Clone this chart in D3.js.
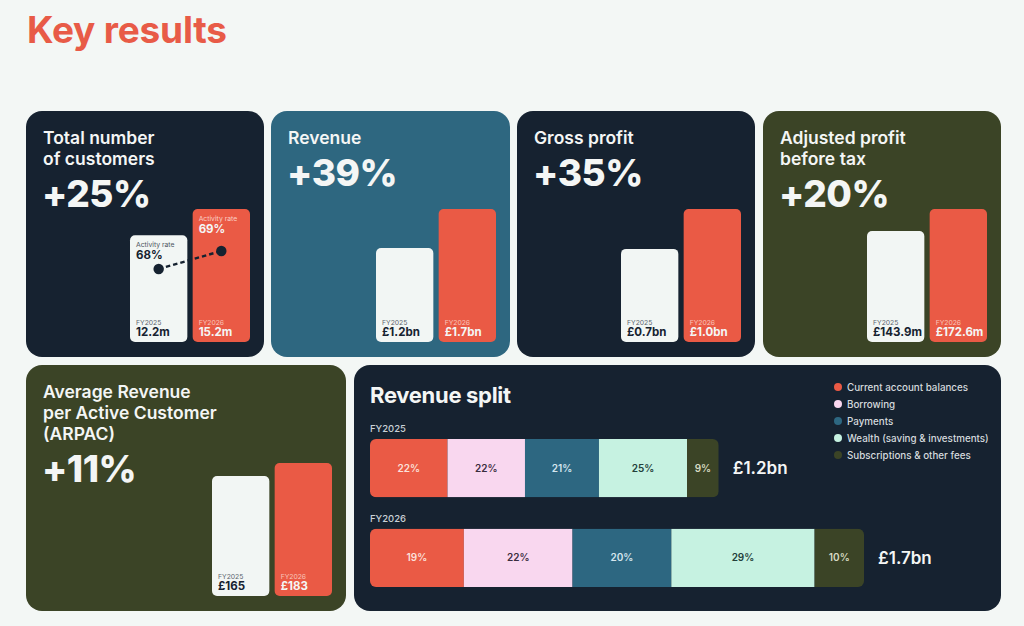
<!DOCTYPE html>
<html lang="en">
<head>
  <meta charset="UTF-8">
  <title>Key results</title>
  <script src="https://d3js.org/d3.v7.min.js"></script>
  <style>
    body {
      margin: 0;
      background: #f3f7f5;
      font-family: "Inter", "Roboto", sans-serif;
    }
    svg text {
      font-family: "Inter", "Roboto", sans-serif;
    }
  </style>
</head>
<body>
  <svg id="chart" width="1024" height="626"></svg>

  <script>
    // headline cards
    const cardTitles = [
      ["Total number", "of customers"],
      ["Revenue"],
      ["Gross profit"],
      ["Adjusted profit", "before tax"],
      ["Average Revenue", "per Active Customer", "(ARPAC)"]
    ];
    const cardChanges = ["+25%", "+39%", "+35%", "+20%", "+11%"];
    const years = ["FY2025", "FY2026"];
    const values2025 = [12.2, 1.2, 0.7, 143.9, 165];
    const values2026 = [15.2, 1.7, 1.0, 172.6, 183];
    const labels2025 = ["12.2m", "£1.2bn", "£0.7bn", "£143.9m", "£165"];
    const labels2026 = ["15.2m", "£1.7bn", "£1.0bn", "£172.6m", "£183"];
    const activityRates = [68, 69];

    // revenue split
    const splitCategories = ["Current account balances", "Borrowing", "Payments",
      "Wealth (saving & investments)", "Subscriptions & other fees"];
    const split2025 = [22, 22, 21, 25, 9];
    const split2026 = [19, 22, 20, 29, 10];
    const splitTotals = [1.2, 1.7];
    const splitTotalLabels = ["£1.2bn", "£1.7bn"];

    const NAVY = "#162230", TEAL = "#2e6780", OLIVE = "#3b4426";
    const RED = "#ea5a45", PAPER = "#f2f6f4", WHITE = "#f4f6f5";
    const segColors = ["#ea5a45", "#f9d7ef", "#2d6781", "#c6f2e1", "#3b4426"];
    const segText = ["#fbe1dc", "#3a2d3e", "#d5e6ee", "#23403a", "#d8dcc4"];

    const svg = d3.select("#chart");

    svg.append("text")
      .attr("x", 27).attr("y", 43)
      .attr("font-size", 37).attr("font-weight", 700)
      .attr("letter-spacing", -0.2)
      .attr("fill", "#e85b47")
      .text("Key results");

    const cards = [
      { x: 26, y: 111, w: 238, h: 246, fill: NAVY },
      { x: 271, y: 111, w: 239, h: 246, fill: TEAL },
      { x: 517, y: 111, w: 238, h: 246, fill: NAVY },
      { x: 763, y: 111, w: 238, h: 246, fill: OLIVE },
      { x: 26, y: 365, w: 320, h: 246, fill: OLIVE }
    ];

    cards.forEach((c, i) => {
      const g = svg.append("g").attr("transform", `translate(${c.x},${c.y})`);
      g.append("rect").attr("width", c.w).attr("height", c.h)
        .attr("rx", 16).attr("fill", c.fill);

      const lines = cardTitles[i];
      g.selectAll("text.title").data(lines).join("text")
        .attr("class", "title")
        .attr("x", 17).attr("y", (d, j) => 33 + j * 21)
        .attr("font-size", 17.5).attr("font-weight", 600)
        .attr("fill", WHITE)
        .text(d => d);

      g.append("text")
        .attr("x", 16).attr("y", 33 + (lines.length - 1) * 21 + 42)
        .attr("font-size", 37).attr("font-weight", 800)
        .attr("letter-spacing", -0.5)
        .attr("fill", WHITE)
        .text(cardChanges[i]);

      const vals = [values2025[i], values2026[i]];
      const labs = [labels2025[i], labels2026[i]];
      const bottom = c.h - 15;
      const xb = d3.scaleBand().domain(years)
        .range([c.w - 14 - 120, c.w - 14]).paddingInner(0.085);
      const yh = d3.scaleLinear().domain([0, d3.max(vals)]).range([0, 133]);

      const bars = g.selectAll("g.bar").data(years).join("g").attr("class", "bar");
      bars.append("rect")
        .attr("x", d => xb(d))
        .attr("y", (d, j) => bottom - yh(vals[j]))
        .attr("width", xb.bandwidth())
        .attr("height", (d, j) => yh(vals[j]))
        .attr("rx", 5)
        .attr("fill", (d, j) => j === 0 ? PAPER : RED);
      bars.append("text")
        .attr("x", d => xb(d) + 6).attr("y", bottom - 17)
        .attr("font-size", 6.8).attr("font-weight", 400)
        .attr("fill", (d, j) => j === 0 ? "#5d6670" : "#f9c6bb")
        .text(d => d);
      bars.append("text")
        .attr("x", d => xb(d) + 6).attr("y", bottom - 6)
        .attr("font-size", 11.5).attr("font-weight", 700)
        .attr("fill", (d, j) => j === 0 ? NAVY : WHITE)
        .text((d, j) => labs[j]);

      if (i === 0) {
        const ry = d3.scaleLinear().domain([68, 69]).range([bottom - 73, bottom - 91]);
        const pts = years.map((d, j) => [xb(d) + xb.bandwidth() / 2, ry(activityRates[j])]);
        g.append("path")
          .attr("d", d3.line()(pts))
          .attr("stroke", NAVY).attr("stroke-width", 2.4)
          .attr("stroke-dasharray", "4.5,3").attr("fill", "none");
        g.selectAll("circle.dot").data(pts).join("circle")
          .attr("class", "dot")
          .attr("cx", d => d[0]).attr("cy", d => d[1]).attr("r", 5.2)
          .attr("fill", NAVY);
        bars.append("text")
          .attr("x", d => xb(d) + 6)
          .attr("y", (d, j) => bottom - yh(vals[j]) + 12)
          .attr("font-size", 6.8).attr("font-weight", 400)
          .attr("fill", (d, j) => j === 0 ? "#4c5560" : "#fbd0c6")
          .text("Activity rate");
        bars.append("text")
          .attr("x", d => xb(d) + 6)
          .attr("y", (d, j) => bottom - yh(vals[j]) + 23.5)
          .attr("font-size", 11.5).attr("font-weight", 700)
          .attr("fill", (d, j) => j === 0 ? NAVY : WHITE)
          .text((d, j) => activityRates[j] + "%");
      }
    });

    // revenue split card
    const sp = svg.append("g").attr("transform", "translate(354,365)");
    sp.append("rect").attr("width", 647).attr("height", 246)
      .attr("rx", 16).attr("fill", NAVY);
    sp.append("text")
      .attr("x", 16).attr("y", 38)
      .attr("font-size", 22).attr("font-weight", 700)
      .attr("letter-spacing", -0.3)
      .attr("fill", WHITE)
      .text("Revenue split");

    const xs = d3.scaleLinear().domain([0, d3.max(splitTotals)]).range([0, 494]);
    const ys = d3.scaleBand().domain(years).range([74, 222]).paddingInner(0.35);
    const splits = [split2025, split2026];

    years.forEach((yr, r) => {
      const total = xs(splitTotals[r]);
      const sum = d3.sum(splits[r]);
      const y0 = ys(yr), bh = ys.bandwidth();
      const row = sp.append("g").attr("transform", `translate(16,${y0})`);

      sp.append("text")
        .attr("x", 16).attr("y", y0 - 7)
        .attr("font-size", 9.5).attr("font-weight", 500)
        .attr("fill", "#c9d0d6")
        .text(yr);

      const clipId = "clip" + r;
      row.append("clipPath").attr("id", clipId)
        .append("rect").attr("width", total).attr("height", bh).attr("rx", 6);

      let acc = 0;
      const segs = splits[r].map((v, k) => {
        const s = { v, k, x0: acc };
        acc += v;
        s.x1 = acc;
        return s;
      });
      const segX = d3.scaleLinear().domain([0, sum]).range([0, total]);

      const sg = row.append("g").attr("clip-path", `url(#${clipId})`);
      sg.selectAll("rect").data(segs).join("rect")
        .attr("x", d => segX(d.x0))
        .attr("width", d => segX(d.x1) - segX(d.x0))
        .attr("height", bh)
        .attr("fill", d => segColors[d.k]);
      row.selectAll("text.seg").data(segs).join("text")
        .attr("class", "seg")
        .attr("x", d => (segX(d.x0) + segX(d.x1)) / 2)
        .attr("y", bh / 2 + 3.5)
        .attr("text-anchor", "middle")
        .attr("font-size", 10).attr("font-weight", 600)
        .attr("fill", d => segText[d.k])
        .text(d => d.v + "%");

      row.append("text")
        .attr("x", total + 14).attr("y", bh / 2 + 6)
        .attr("font-size", 17).attr("font-weight", 600)
        .attr("fill", WHITE)
        .text(splitTotalLabels[r]);
    });

    const lg = sp.append("g").attr("transform", "translate(484,22)");
    const li = lg.selectAll("g").data(splitCategories).join("g")
      .attr("transform", (d, k) => `translate(0,${k * 17})`);
    li.append("circle").attr("r", 4).attr("fill", (d, k) => segColors[k]);
    li.append("text")
      .attr("x", 9).attr("y", 3.5)
      .attr("font-size", 9.8).attr("font-weight", 500)
      .attr("fill", "#d5dade")
      .text(d => d);
  </script>
</body>
</html>
